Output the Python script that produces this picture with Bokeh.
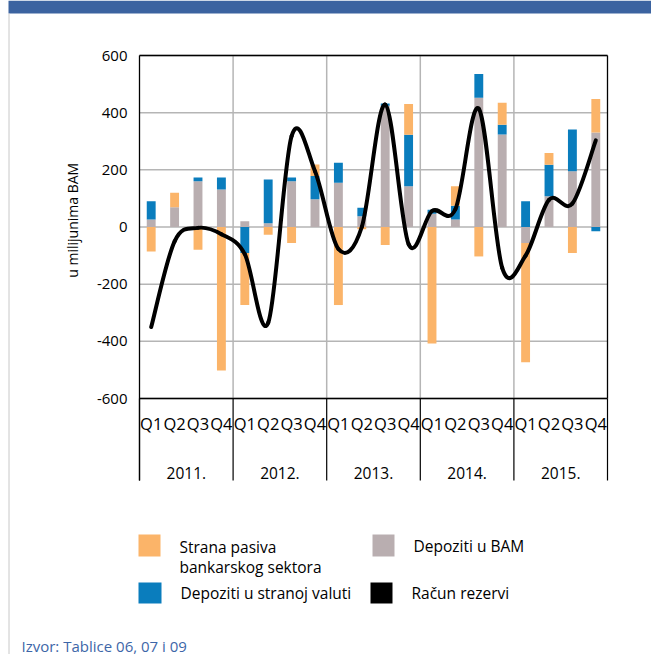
import math
from bokeh.plotting import figure
from bokeh.models import Range1d
from bokeh.core.properties import value
from bokeh.embed import file_html
from bokeh.resources import INLINE

# ---------------- data ----------------
years = ["2011.", "2012.", "2013.", "2014.", "2015."]
quarters = ["Q1", "Q2", "Q3", "Q4"]
# Strana pasiva bankarskog sektora
strana_pasiva = [-86, 51, -80, -502, -182, -27, -56, 41, -273, -8,
                 -63, 107, -408, 69, -103, 77, -417, 41, -91, 117]
# Depoziti u BAM
depoziti_bam = [26, 69, 160, 131, 20, 13, 160, 97, 155, 38,
                424, 143, 46, 26, 452, 324, -56, 108, 195, 331]
# Depoziti u stranoj valuti
depoziti_valuta = [64, 0, 13, 42, -91, 153, 13, 81, 70, 29,
                   8, 180, 14, 48, 83, 34, 90, 110, 146, -15]
# Racun rezervi
racun_rezervi = [-350, -50, -3, -25, -95, -335, 318, 195, -77, 0,
                 428, -60, 56, 62, 414, -143, -100, 95, 82, 303]
y_ticks = [-600, -400, -200, 0, 200, 400, 600]

ORANGE = "#fbb469"
GRAY = "#b9aeb0"
BLUE = "#0a7dbd"
HEADER = "#3b63a0"
SOURCE = "#3d66a8"
GRID = "#b5b5b5"
FONT = "Open Sans"

# ---------------- layout (canvas pixels) ----------------
W, H = 651, 654
PLOT_L, PLOT_R, PLOT_T, PLOT_B, TABLE_B = 139, 607, 55, 398, 480

nq = len(years) * len(quarters)
xs = [i + 0.5 for i in range(nq)]
q_labels = [q for _ in years for q in quarters]
year_x = [len(quarters) * (k + 0.5) for k in range(len(years))]
year_bounds = [len(quarters) * k for k in range(len(years) + 1)]
Y_MIN, Y_MAX = y_ticks[0], y_ticks[-1]

p = figure(width=W, height=H, title=None, x_range=Range1d(0, W), y_range=Range1d(H, 0),
           x_axis_location=None, y_axis_location=None, toolbar_location=None,
           output_backend="svg", min_border=0, outline_line_color=None,
           background_fill_color="white", border_fill_color="white")
p.grid.visible = False

# data scales mapped onto the plot box
pxq = (PLOT_R - PLOT_L) / nq
ppu = (PLOT_B - PLOT_T) / (Y_MAX - Y_MIN)
p.extra_x_ranges = {"q": Range1d(-PLOT_L / pxq, nq + (W - PLOT_R) / pxq)}
p.extra_y_ranges = {"v": Range1d(Y_MIN - (H - PLOT_B) / ppu, Y_MAX + PLOT_T / ppu)}
QV = dict(x_range_name="q", y_range_name="v")

# grid
p.segment(x0=[0] * len(y_ticks), x1=[nq] * len(y_ticks), y0=y_ticks, y1=y_ticks,
          line_color=GRID, line_width=1.5, **QV)
inner = year_bounds[1:-1]
p.segment(x0=inner, x1=inner, y0=[Y_MIN] * len(inner), y1=[Y_MAX] * len(inner),
          line_color=GRID, line_width=1.5, **QV)

# stacked bars (positive and negative stacks separately)
pos = [0.0] * nq
neg = [0.0] * nq
for series, col in [(depoziti_bam, GRAY), (depoziti_valuta, BLUE), (strana_pasiva, ORANGE)]:
    bottoms, tops = [], []
    for i, v in enumerate(series):
        if v >= 0:
            b = pos[i]; t = b + v; pos[i] = t
        else:
            b = neg[i]; t = b + v; neg[i] = t
        bottoms.append(b); tops.append(t)
    p.vbar(x=xs, bottom=bottoms, top=tops, width=0.38, fill_color=col, line_color=None, **QV)

# borders of the plot box
p.segment(x0=[0, nq, 0], x1=[nq, nq, nq], y0=[Y_MAX, Y_MIN, Y_MIN], y1=[Y_MAX, Y_MAX, Y_MIN],
          line_color="black", line_width=1.3, **QV)
# category table (vertical separators)
p.segment(x0=year_bounds, x1=year_bounds, y0=[PLOT_B] * len(year_bounds), y1=[TABLE_B] * len(year_bounds),
          line_color="black", line_width=1.2, x_range_name="q")
p.segment(x0=[0], x1=[0], y0=[PLOT_T], y1=[TABLE_B], line_color="black", line_width=1.3,
          x_range_name="q")

# smoothed line (Catmull-Rom as bezier segments)
x0, y0, x1, y1, cx0, cy0, cx1, cy1 = [], [], [], [], [], [], [], []
n = len(racun_rezervi)
for i in range(n - 1):
    pa = (xs[i - 1], racun_rezervi[i - 1]) if i > 0 else (xs[i], racun_rezervi[i])
    pb = (xs[i], racun_rezervi[i])
    pc = (xs[i + 1], racun_rezervi[i + 1])
    pd = (xs[i + 2], racun_rezervi[i + 2]) if i + 2 < n else pc
    x0.append(pb[0]); y0.append(pb[1]); x1.append(pc[0]); y1.append(pc[1])
    cx0.append(pb[0] + (pc[0] - pa[0]) / 6); cy0.append(pb[1] + (pc[1] - pa[1]) / 6)
    cx1.append(pc[0] - (pd[0] - pb[0]) / 6); cy1.append(pc[1] - (pd[1] - pb[1]) / 6)
p.bezier(x0=x0, y0=y0, x1=x1, y1=y1, cx0=cx0, cy0=cy0, cx1=cx1, cy1=cy1,
         line_color="black", line_width=4, line_cap="round", **QV)

# y tick labels
p.text(x=[PLOT_L - 12] * len(y_ticks), y=y_ticks, text=[str(t) for t in y_ticks],
       text_font=value(FONT), text_font_size="15px", text_align="right",
       text_baseline="middle", text_color="black", y_range_name="v")

# category labels
p.text(x=xs, y=[423] * nq, text=q_labels, text_font=value(FONT), text_font_size="16.5px",
       text_align="center", text_baseline="middle", text_color="black", x_range_name="q")
p.text(x=year_x, y=[472] * len(years), text=years, text_font=value(FONT), text_font_size="15.5px",
       text_align="center", text_baseline="middle", text_color="black", x_range_name="q")

# y title
p.text(x=[72], y=[218], text=["u milijunima  BAM"], angle=math.pi / 2,
       text_font=value(FONT), text_font_size="14px", text_align="center",
       text_baseline="middle", text_color="black")

# header bar and left border
p.quad(left=[8], right=[W], top=[0], bottom=[13], fill_color=HEADER, line_color=None)
p.segment(x0=[8.5], x1=[8.5], y0=[13], y1=[H], line_color="#c8c8c8", line_width=1)

# legend
p.quad(left=[138, 372, 138, 370], right=[160, 394, 161, 392],
       top=[534, 534, 582, 582], bottom=[556, 556, 603, 603],
       fill_color=[ORANGE, GRAY, BLUE, "black"], line_color=None)
p.text(x=[179, 179, 413, 180, 411], y=[546, 566, 545, 592, 592],
       text=["Strana pasiva", "bankarskog sektora", "Depoziti u BAM",
             "Depoziti u stranoj valuti", "Račun rezervi"],
       text_font=value(FONT), text_font_size="15.5px", text_align="left",
       text_baseline="middle", text_color="black")

# source
p.text(x=[21], y=[645], text=["Izvor: Tablice 06, 07 i 09"], text_font=value(FONT),
       text_font_size="15px", text_align="left", text_baseline="middle", text_color=SOURCE)

open("out.html", "w").write(file_html(p, INLINE))
